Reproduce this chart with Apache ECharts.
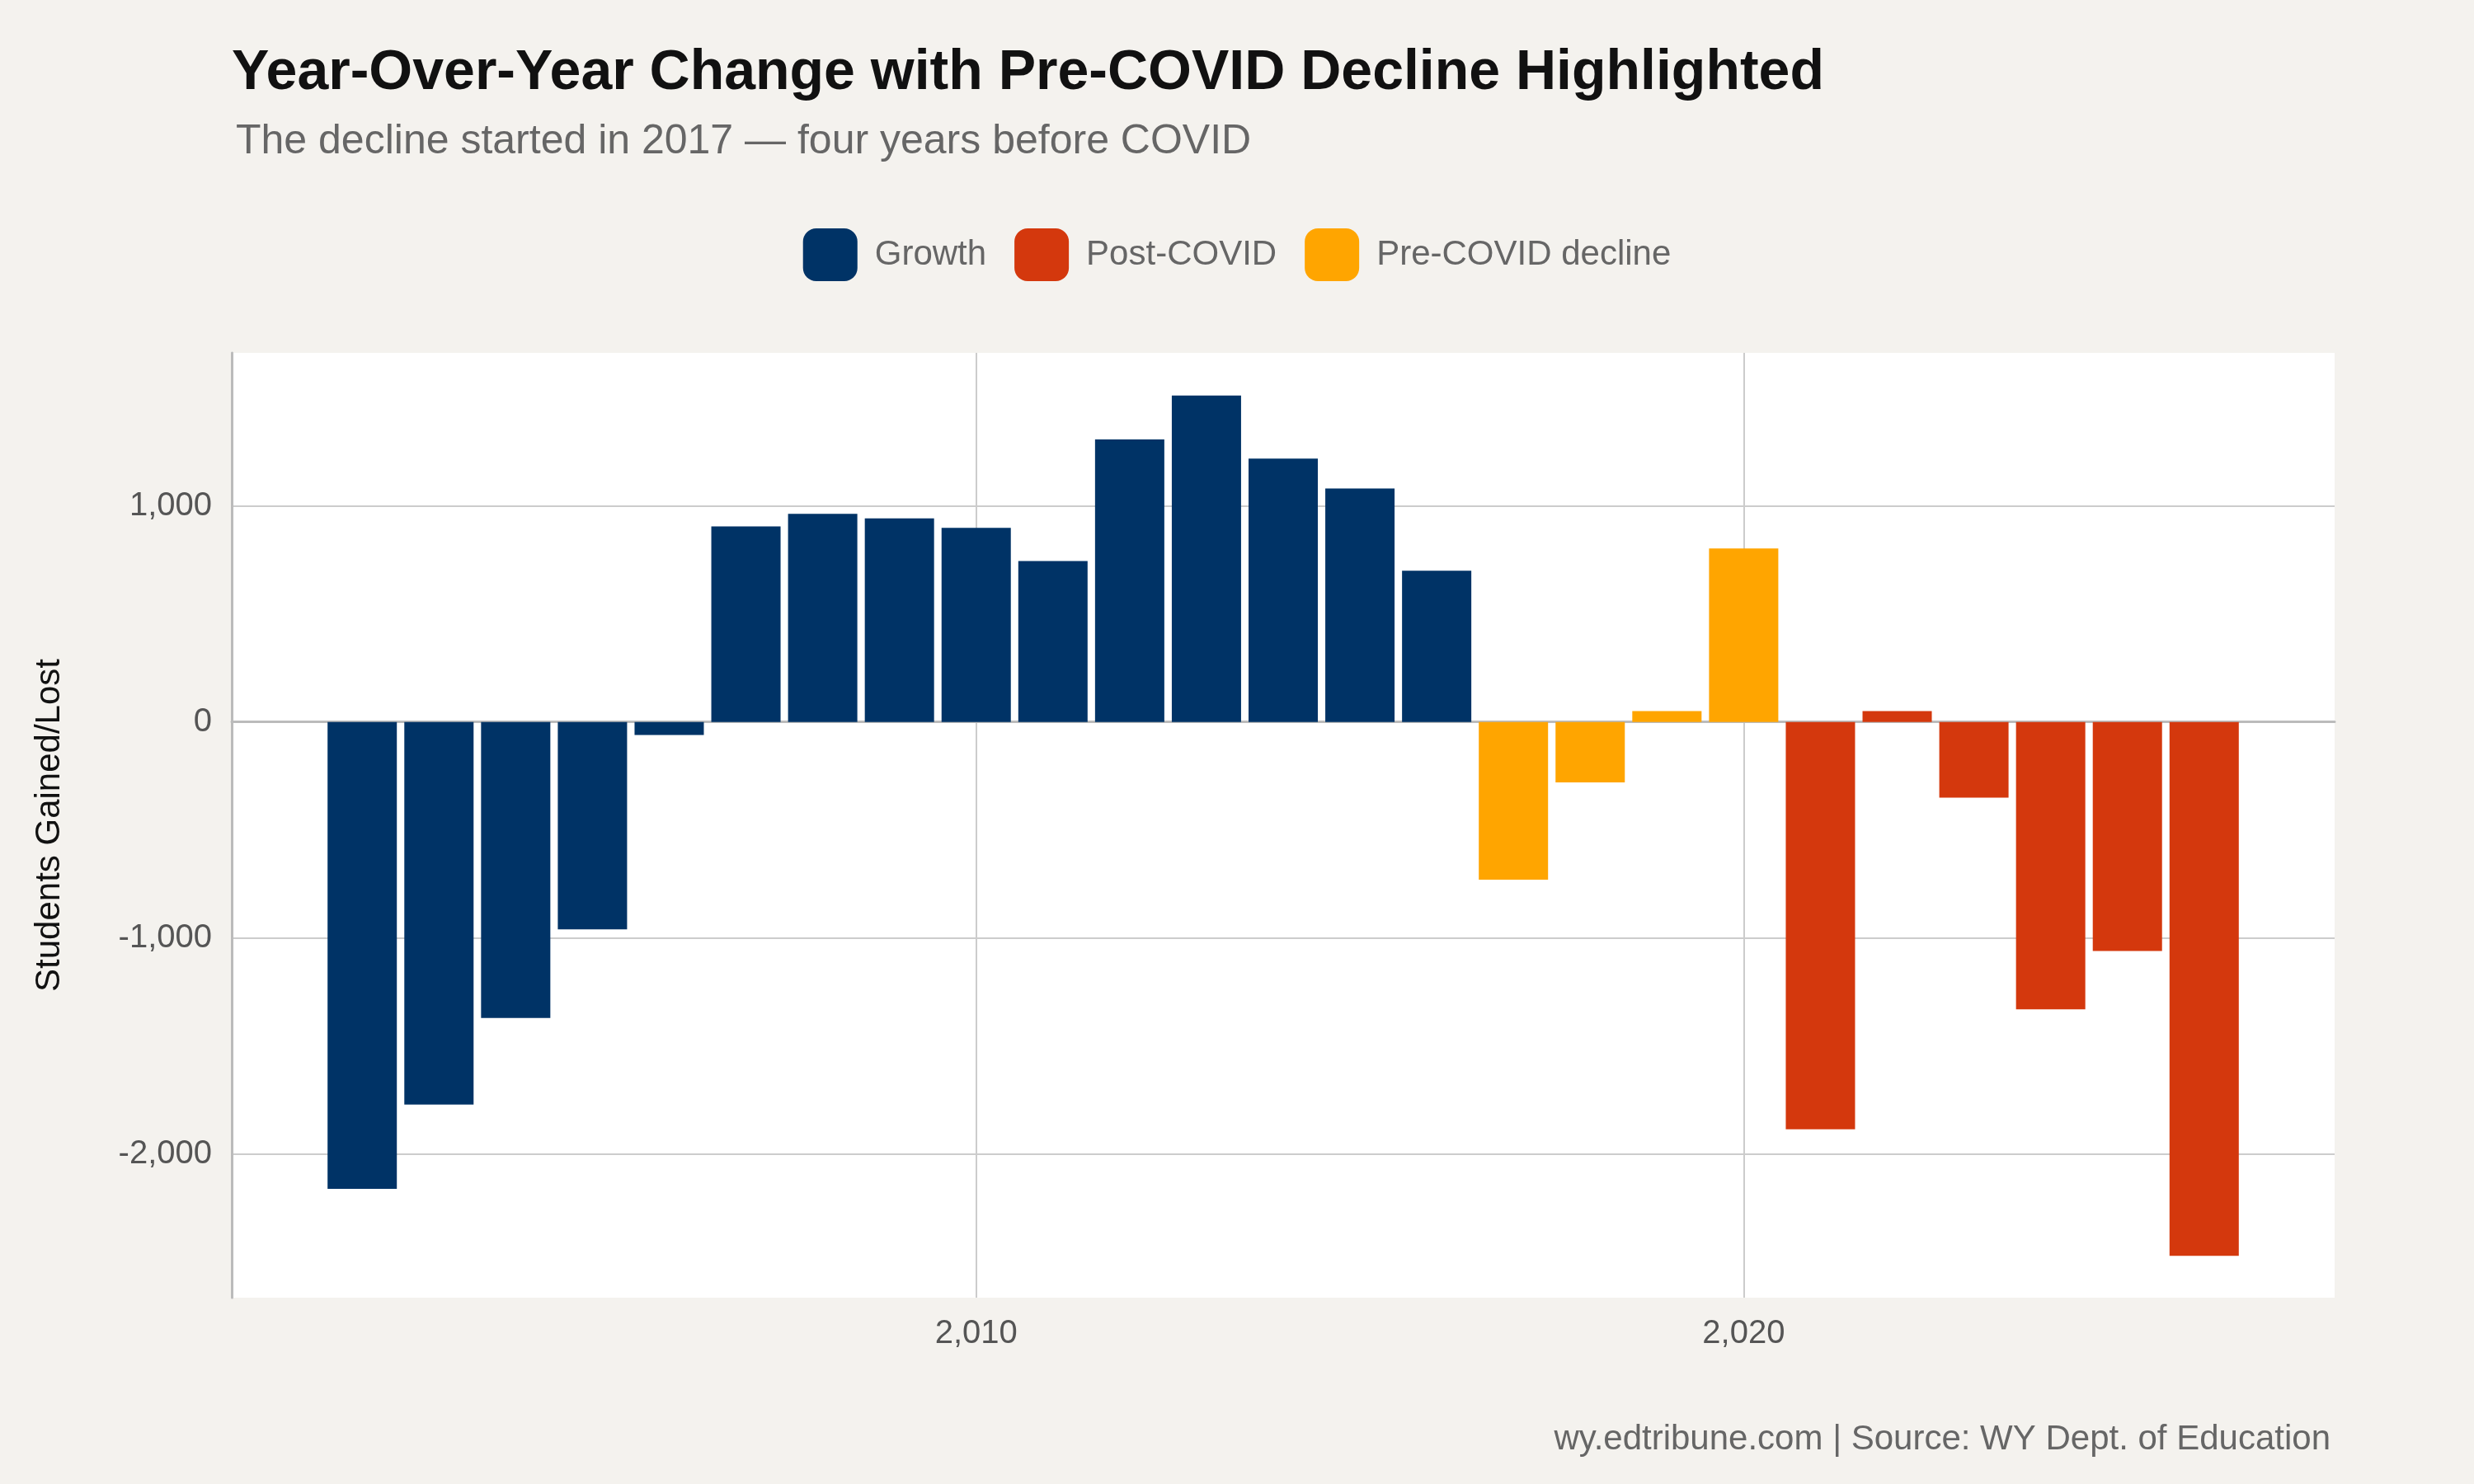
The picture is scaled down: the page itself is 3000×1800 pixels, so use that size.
<!DOCTYPE html>
<html><head><meta charset="utf-8">
<script src="https://cdn.jsdelivr.net/npm/echarts@6/dist/echarts.min.js"></script>
<style>html,body{margin:0;background:#F4F2EE}#c{width:3000px;height:1800px}</style>
</head><body><div id="c"></div>
<script>
const growthYears = [2002,2003,2004,2005,2006,2007,2008,2009,2010,2011,2012,2013,2014,2015,2016];
const growthValues = [-2160,-1770,-1370,-960,-60,905,963,942,898,745,1307,1511,1219,1080,700];
const preYears = [2017,2018,2019,2020];
const preValues = [-730,-280,50,803];
const postYears = [2021,2022,2023,2024,2025,2026];
const postValues = [-1885,50,-350,-1330,-1060,-2470];
const xTicks = [2010,2020];
const yTicks = [-2000,-1000,0,1000];
const font = 'Liberation Sans';
const pair = (xs, vs) => xs.map((x,i)=>[x,vs[i]]);
const mk = (name,color,xs,vs)=>({name,type:'bar',stack:'s',barWidth:84,itemStyle:{color},data:pair(xs,vs)});
const chart = echarts.init(document.getElementById('c'));
chart.setOption({
  backgroundColor:'#F4F2EE',
  animation:false,
  textStyle:{fontFamily:font},
  title:[
    {text:'Year-Over-Year Change with Pre-COVID Decline Highlighted',left:276,top:50,
     textStyle:{fontFamily:font,fontSize:68,fontWeight:'bold',color:'#111'}},
    {text:'The decline started in 2017 — four years before COVID',left:281,top:142,
     textStyle:{fontFamily:font,fontSize:50,fontWeight:'normal',color:'#666'}},
    {text:'wy.edtribune.com | Source: WY Dept. of Education',right:169,top:1720,
     textStyle:{fontFamily:font,fontSize:42,fontWeight:'normal',color:'#666'}}
  ],
  legend:{top:272,left:'center',itemWidth:66,itemHeight:64,itemGap:34,
    textStyle:{fontFamily:font,fontSize:42,color:'#666',padding:[0,0,0,16]},
    data:['Growth','Post-COVID','Pre-COVID decline']},
  grid:{left:281,right:169,top:428,bottom:226,backgroundColor:'#fff',show:true,borderWidth:0},
  xAxis:{type:'value',min:2000.3,max:2027.7,
    axisLine:{show:true,lineStyle:{color:'#bbb',width:3}},
    axisTick:{show:false,customValues:xTicks},
    axisLabel:{customValues:xTicks,fontSize:40,color:'#555',margin:24,fontFamily:font},
    splitLine:{show:true,lineStyle:{color:'#ccc',width:2}}},
  yAxis:{type:'value',min:-2664,max:1708,name:'Students Gained/Lost',nameLocation:'middle',nameGap:200,
    nameTextStyle:{fontSize:42,color:'#111',fontFamily:font},
    axisLine:{show:true,lineStyle:{color:'#bbb',width:3}},
    axisTick:{show:false,customValues:yTicks},
    axisLabel:{customValues:yTicks,fontSize:40,color:'#555',margin:24,fontFamily:font},
    splitLine:{show:true,lineStyle:{color:'#ccc',width:2}}},
  series:[
    mk('Growth','#003366',growthYears,growthValues),
    mk('Post-COVID','#D4380D',postYears,postValues),
    mk('Pre-COVID decline','#FFA500',preYears,preValues)
  ]
});
</script></body></html>
